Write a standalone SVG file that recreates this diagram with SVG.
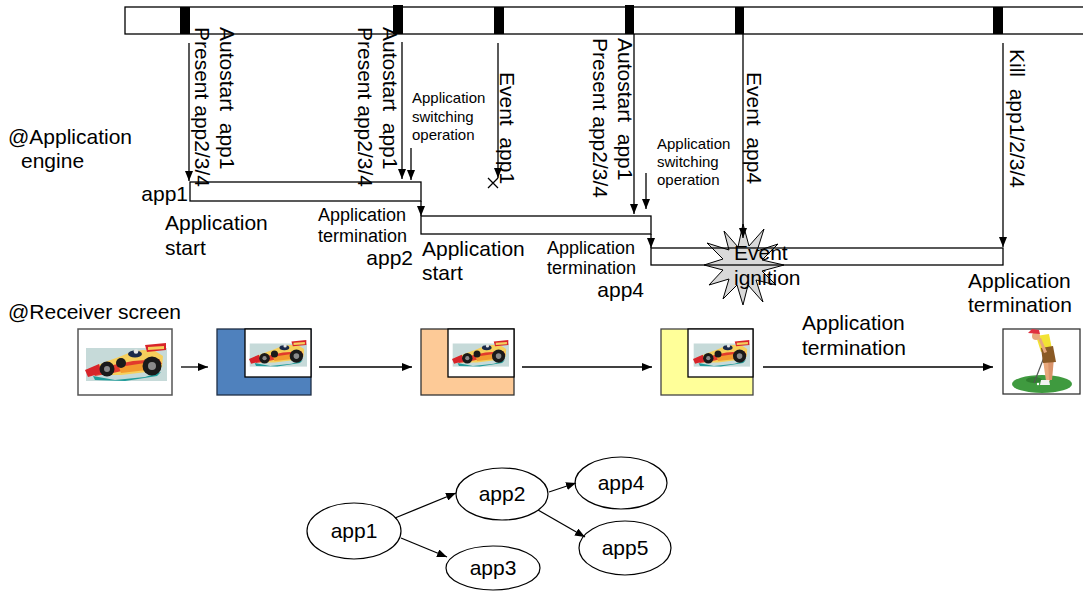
<svg xmlns="http://www.w3.org/2000/svg" xmlns:xlink="http://www.w3.org/1999/xlink" width="1083" height="591" viewBox="0 0 1083 591">
  <style>
    .t { font-family: "Liberation Sans", Arial, sans-serif; font-size: 21px; fill: #000; white-space: pre; }
    .m { font-size: 18px; }
    .s { font-size: 15px; }
    .ln { stroke: #000; stroke-width: 1.3; fill: none; }
    .arr { stroke: #000; stroke-width: 1.3; fill: none; marker-end: url(#ah); }
    .mk { fill: #000; }
    .node { fill: #fff; stroke: #000; stroke-width: 1.2; }
  </style>
  <defs>
    <marker id="ah" markerUnits="userSpaceOnUse" markerWidth="10" markerHeight="8" refX="10" refY="4" orient="auto">
      <path d="M0,0 L10,4 L0,8 z" fill="#000"/>
    </marker>
    <!-- race car clip-art, drawn in an 82x40 box -->
    <symbol id="car" viewBox="0 0 82 40" preserveAspectRatio="none">
      <rect x="1" y="5" width="81" height="33" fill="#c6dad9"/>
      <polygon points="8,33 30,37 60,34 76,29 72,33 40,38 10,37" fill="#1f9c9a"/>
      <polygon points="4,26 20,19 34,14 46,9 58,7 70,8 78,13 77,24 62,29 36,32 14,32" fill="#f6cf5c"/>
      <polygon points="6,28 28,22 48,18 74,16 77,21 50,25 28,30 10,33" fill="#e23a2c"/>
      <polygon points="34,24 60,20 62,27 36,30" fill="#f29a2e"/>
      <polygon points="0,27 14,21 17,30 3,34" fill="#d8242a"/>
      <polygon points="60,2 81,0 81,7 62,9" fill="#d8242a"/>
      <polygon points="63,4 79,3 79,6 63,7" fill="#f6cf5c"/>
      <ellipse cx="50" cy="11" rx="7" ry="3.5" fill="#1b2a4a"/>
      <circle cx="51" cy="8.5" r="2.3" fill="#e6e6e6"/>
      <circle cx="36" cy="20" r="5" fill="#1a1a1a"/>
      <circle cx="22" cy="26" r="7.5" fill="#1a1a1a"/>
      <circle cx="22" cy="26" r="3" fill="#8a8a8a"/>
      <circle cx="67" cy="23" r="9.5" fill="#1a1a1a"/>
      <circle cx="67" cy="23" r="4" fill="#8a8a8a"/>
    </symbol>
  </defs>

  <rect width="1083" height="591" fill="#fff"/>

  <!-- time bar with event markers -->
  <g id="timebar">
    <rect x="125" y="7" width="970" height="27" fill="#fff" stroke="#000" stroke-width="1.3"/>
    <rect class="mk" x="180" y="7" width="10" height="27"/>
    <rect class="mk" x="393" y="5" width="10" height="29"/>
    <rect class="mk" x="494" y="7" width="10" height="27"/>
    <rect class="mk" x="625" y="5" width="9" height="29"/>
    <rect class="mk" x="735" y="7" width="9" height="27"/>
    <rect class="mk" x="993" y="7" width="10" height="27"/>
  </g>

  <!-- side headings -->
  <g id="headings" class="t">
    <text x="8" y="144">@Application</text>
    <text x="21" y="168">engine</text>
    <text x="8" y="319">@Receiver screen</text>
  </g>

  <!-- event labels along the bar -->
  <g id="event-labels" class="t">
    <text xml:space="preserve" transform="translate(195,27) rotate(90)">Present app2/3/4</text>
    <text xml:space="preserve" transform="translate(220,27) rotate(90)">Autostart  app1</text>
    <text xml:space="preserve" transform="translate(358,27) rotate(90)">Present app2/3/4</text>
    <text xml:space="preserve" transform="translate(383,27) rotate(90)">Autostart  app1</text>
    <text xml:space="preserve" transform="translate(500,72) rotate(90)">Event  app1</text>
    <text xml:space="preserve" transform="translate(593,38) rotate(90)">Present app2/3/4</text>
    <text xml:space="preserve" transform="translate(618,38) rotate(90)">Autostart  app1</text>
    <text xml:space="preserve" transform="translate(747,72) rotate(90)">Event  app4</text>
    <text xml:space="preserve" transform="translate(1010,49) rotate(90)">Kill  app1/2/3/4</text>
  </g>

  <g id="switch-labels" class="t s">
    <text x="412" y="103">Application</text>
    <text x="412" y="122">switching</text>
    <text x="412" y="140">operation</text>
    <text x="657" y="149">Application</text>
    <text x="657" y="167">switching</text>
    <text x="657" y="185">operation</text>
  </g>

  <!-- explosion behind the app4 lifetime box -->
  <g id="ignition">
    <polygon fill="#d9d9d9" stroke="#000" stroke-width="1" points="784,265 762,271 776,285 756,280 763,302 748,285 743,305 737,285 723,299 729,279 709,285 723,270 704,265 723,259 707,243 729,250 724,231 738,247 743,224 749,246 764,229 757,251 778,244 762,260"/>
  </g>

  <!-- application lifetime boxes -->
  <g id="app1-box">
    <rect class="ln" x="190" y="182" width="231" height="19"/>
    <text class="t" x="188" y="201" text-anchor="end">app1</text>
    <text class="t" x="165" y="230">Application</text>
    <text class="t" x="165" y="255">start</text>
  </g>
  <g id="app2-box">
    <rect class="ln" x="421" y="216" width="230" height="18"/>
    <text class="t m" x="318" y="221">Application</text>
    <text class="t m" x="318" y="242">termination</text>
    <text class="t" x="413" y="265" text-anchor="end">app2</text>
    <text class="t" x="422" y="256">Application</text>
    <text class="t" x="422" y="280">start</text>
  </g>
  <g id="app4-box">
    <rect class="ln" x="651" y="248" width="352" height="17"/>
    <text class="t m" x="547" y="254">Application</text>
    <text class="t m" x="547" y="274">termination</text>
    <text class="t" x="644" y="297" text-anchor="end">app4</text>
    <text class="t" x="734" y="260">Event</text>
    <text class="t" x="734" y="285">ignition</text>
    <text class="t" x="968" y="288">Application</text>
    <text class="t" x="968" y="312">termination</text>
  </g>

  <!-- receiver screens -->
  <g id="screen1">
    <rect x="78" y="329" width="94" height="66" fill="#fff" stroke="#555" stroke-width="1.5"/>
    <use href="#car" x="85" y="343" width="82" height="40"/>
  </g>
  <g id="screen2">
    <rect x="217" y="329" width="94" height="66" fill="#4f81bd" stroke="#1f2f45" stroke-width="1.3"/>
    <rect x="245" y="329" width="66" height="48" fill="#fff" stroke="#000" stroke-width="1.3"/>
    <use href="#car" x="249" y="340" width="58" height="28"/>
  </g>
  <g id="screen3">
    <rect x="421" y="329" width="93" height="66" fill="#fdca97" stroke="#333" stroke-width="1.3"/>
    <rect x="448" y="329" width="66" height="48" fill="#fff" stroke="#000" stroke-width="1.3"/>
    <use href="#car" x="452" y="340" width="57" height="28"/>
  </g>
  <g id="screen4">
    <rect x="661" y="329" width="92" height="66" fill="#ffff99" stroke="#444" stroke-width="1.3"/>
    <rect x="688" y="329" width="65" height="48" fill="#fff" stroke="#000" stroke-width="1.3"/>
    <use href="#car" x="693" y="340" width="57" height="28"/>
  </g>
  <g id="screen5">
    <rect x="1003" y="329" width="77" height="65" fill="#fff" stroke="#333" stroke-width="1.3"/>
    <!-- golfer putting on a green -->
    <ellipse cx="1042" cy="384" rx="30" ry="9" fill="#3f9a3f"/>
    <ellipse cx="1034" cy="380" rx="8" ry="3" fill="#2f7f2f"/>
    <line x1="1046" y1="352" x2="1034" y2="383" stroke="#555" stroke-width="1.2"/>
    <polygon points="1043,360 1049,360 1050,381 1046,381" fill="#e8a87c"/>
    <polygon points="1048,358 1054,358 1052,380 1049,380" fill="#d9936a"/>
    <polygon points="1041,380 1049,380 1050,385 1040,385" fill="#f2f2f2"/>
    <polygon points="1036,336 1049,334 1052,349 1041,352" fill="#f2e234"/>
    <polygon points="1041,348 1053,346 1056,362 1043,363" fill="#8a5a25"/>
    <polygon points="1038,338 1041,338 1047,352 1044,353" fill="#e8a87c"/>
    <circle cx="1036" cy="336" r="4" fill="#e8a87c"/>
    <path d="M1028,333 L1032,329 L1039,330 L1040,334 Z" fill="#e03040"/>
    <circle cx="1038" cy="384" r="1.2" fill="#fff"/>
  </g>

  <!-- application launch tree -->
  <g id="tree-app1"><ellipse class="node" cx="354" cy="531" rx="47" ry="28"/><text class="t" x="354" y="538" text-anchor="middle">app1</text></g>
  <g id="tree-app2"><ellipse class="node" cx="502" cy="494" rx="46" ry="26"/><text class="t" x="502" y="501" text-anchor="middle">app2</text></g>
  <g id="tree-app3"><ellipse class="node" cx="493" cy="568" rx="47" ry="22"/><text class="t" x="493" y="575" text-anchor="middle">app3</text></g>
  <g id="tree-app4"><ellipse class="node" cx="621" cy="483" rx="46" ry="26"/><text class="t" x="621" y="490" text-anchor="middle">app4</text></g>
  <g id="tree-app5"><ellipse class="node" cx="625" cy="548" rx="46" ry="27"/><text class="t" x="625" y="555" text-anchor="middle">app5</text></g>

  <!-- connectors -->
  <g id="connectors">
    <line class="arr" x1="189" y1="43" x2="189" y2="181"/>
    <line class="arr" x1="402" y1="42" x2="402" y2="179"/>
    <line class="arr" x1="411" y1="148" x2="411" y2="180"/>
    <line class="arr" x1="498" y1="43" x2="498" y2="178"/>
    <path class="ln" d="M488,178 L498,188 M498,178 L488,188"/>
    <line class="arr" x1="634" y1="34" x2="634" y2="214"/>
    <line class="arr" x1="646" y1="173" x2="646" y2="209"/>
    <line class="arr" x1="743" y1="34" x2="743" y2="238"/>
    <line class="arr" x1="1003" y1="43" x2="1003" y2="247"/>
    <line class="arr" x1="421" y1="201" x2="421" y2="216"/>
    <line class="arr" x1="651" y1="234" x2="651" y2="248"/>

    <line class="arr" x1="181" y1="367" x2="208" y2="367"/>
    <line class="arr" x1="319" y1="367" x2="412" y2="367"/>
    <line class="arr" x1="522" y1="367" x2="652" y2="367"/>
    <line class="arr" x1="763" y1="367" x2="993" y2="367"/>
    <text class="t" x="802" y="330">Application</text>
    <text class="t" x="802" y="355">termination</text>

    <line class="arr" x1="395" y1="518" x2="456" y2="493"/>
    <line class="arr" x1="401" y1="538" x2="447" y2="557"/>
    <line class="arr" x1="549" y1="492" x2="576" y2="483"/>
    <line class="arr" x1="538" y1="510" x2="585" y2="537"/>
  </g>
</svg>
